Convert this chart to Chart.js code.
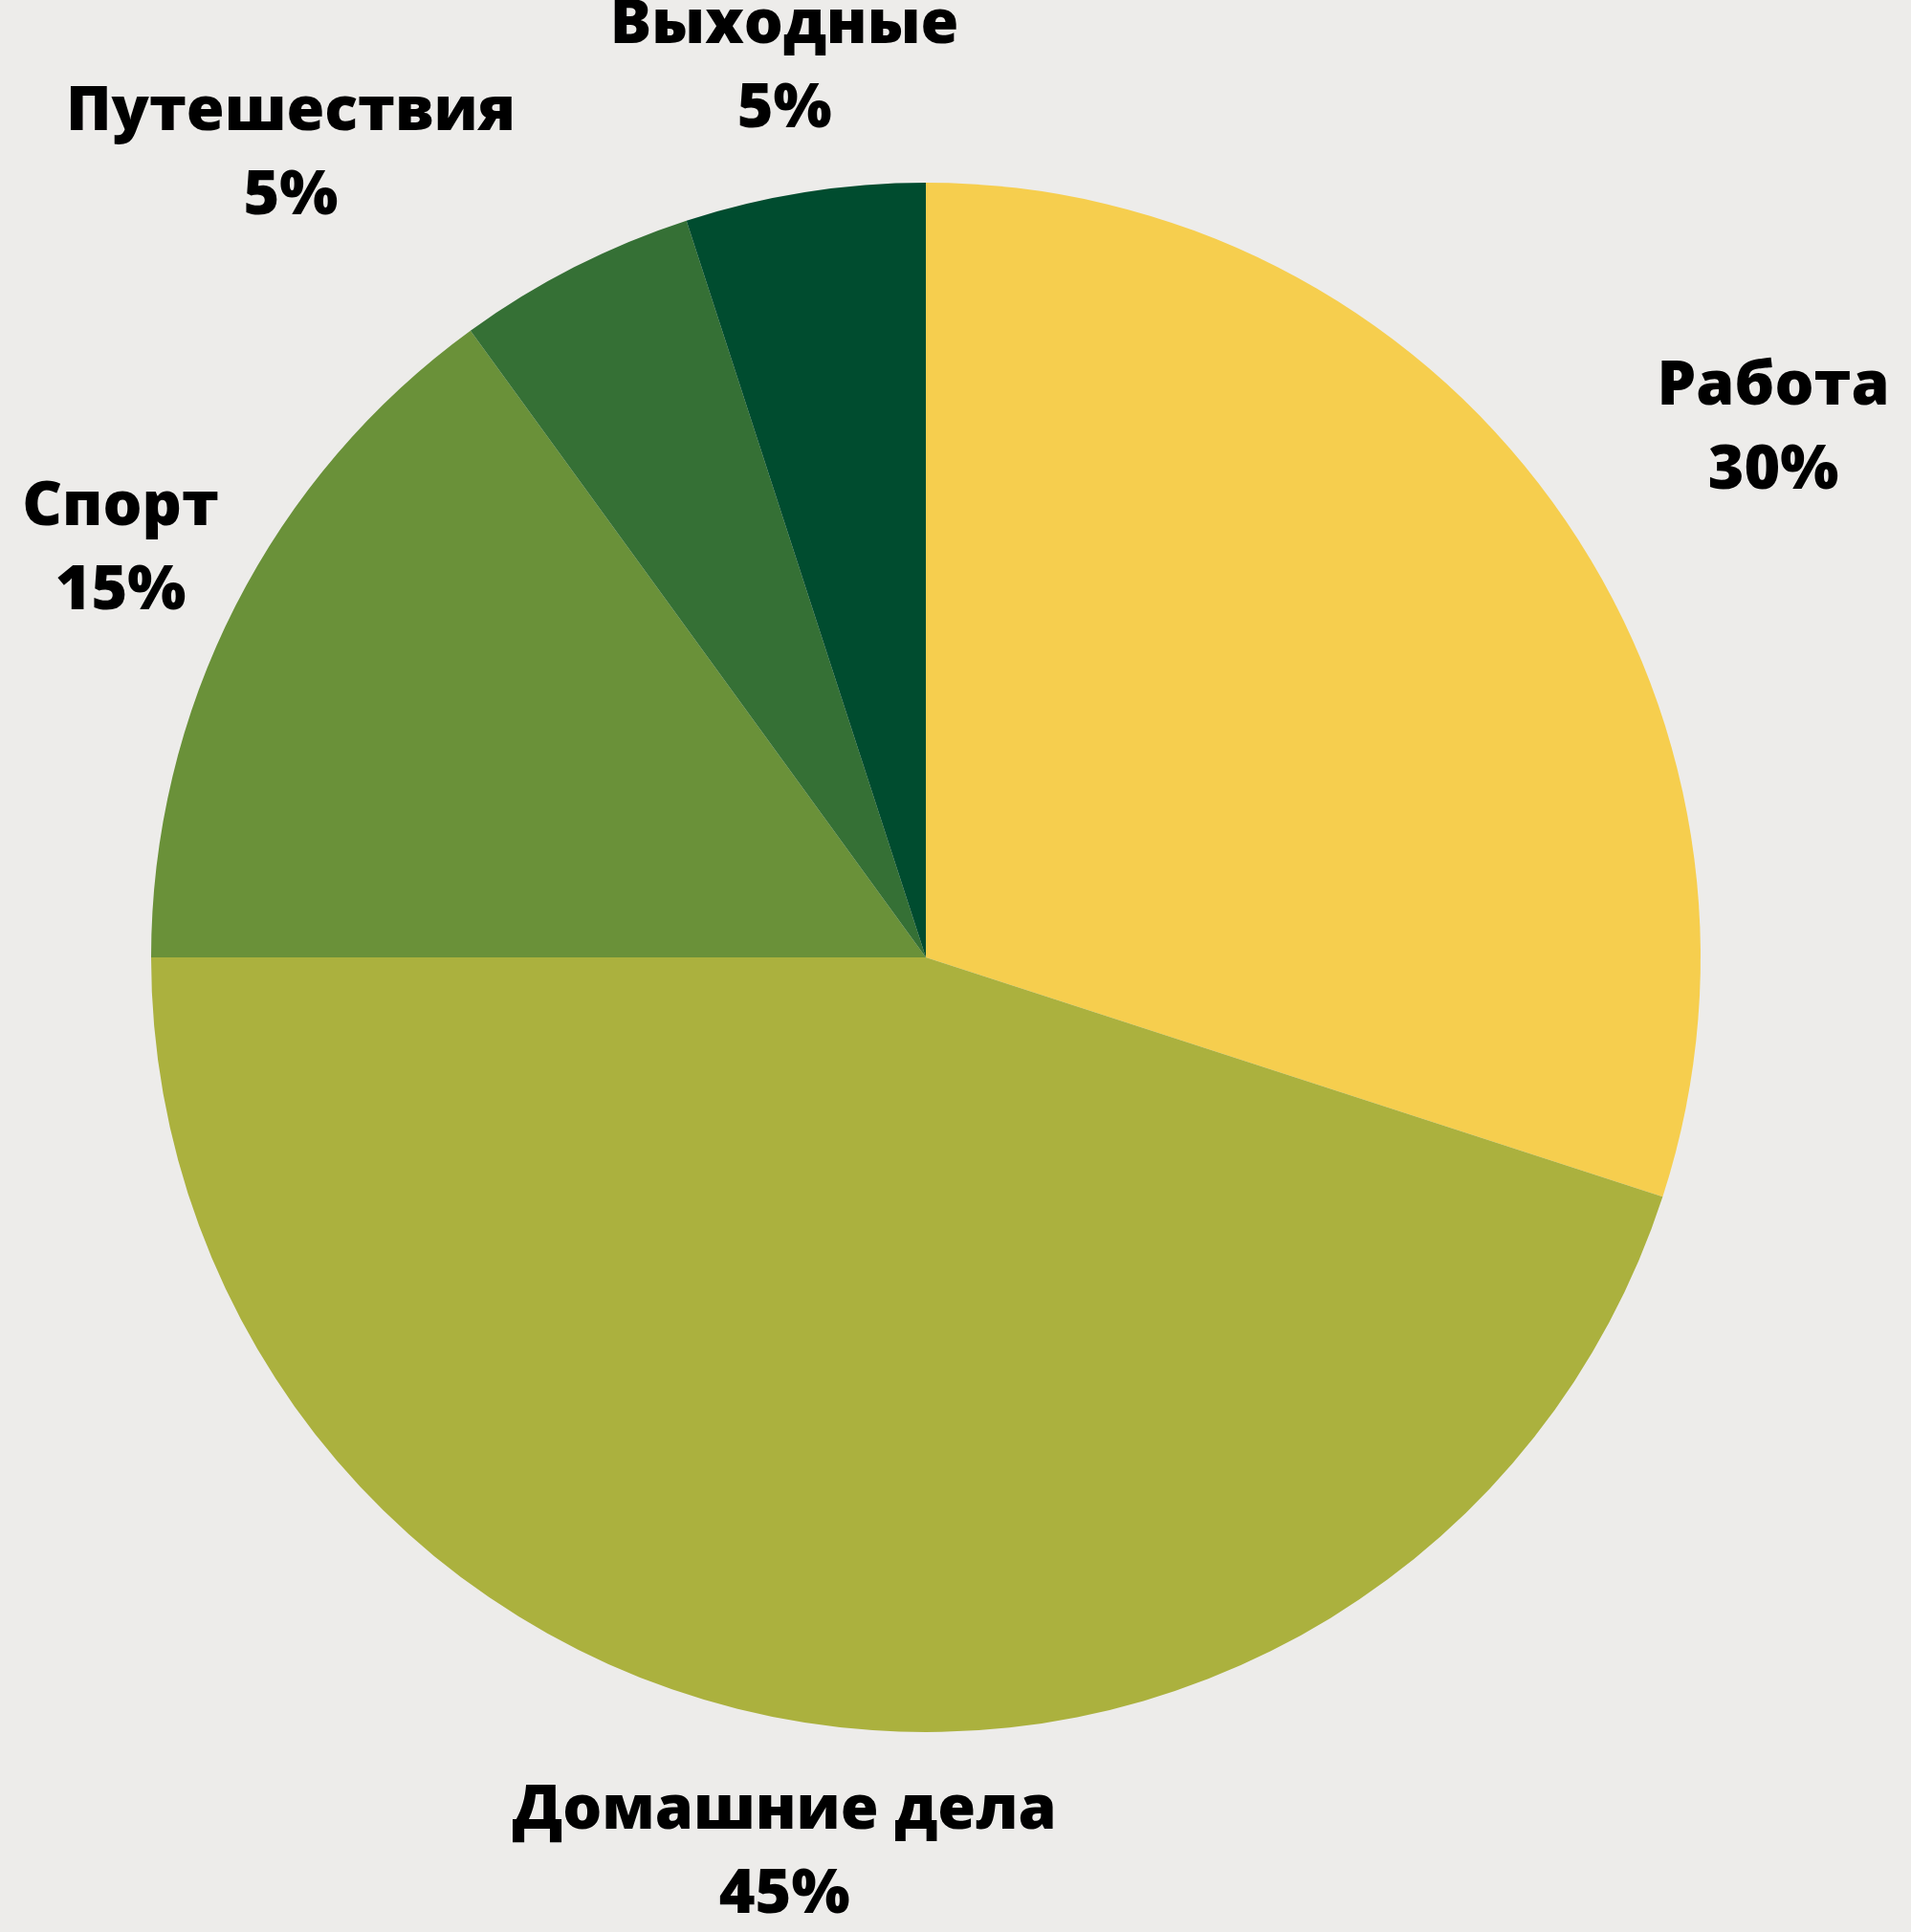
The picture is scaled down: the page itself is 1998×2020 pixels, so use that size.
<!DOCTYPE html>
<html>
<head>
<meta charset="utf-8">
<script src="https://cdn.jsdelivr.net/npm/chart.js@4"></script>
<style>
    html, body { margin: 0; padding: 0; background: #EDECEA; }
    #wrap { width: 1998px; height: 2020px; }
</style>
</head>
<body>
<div id="wrap"><canvas id="pie-chart"></canvas></div>
<script>
var categories = ['Работа', 'Домашние дела', 'Спорт', 'Путешествия', 'Выходные'];
var shares = [30, 45, 15, 5, 5];
var sliceColors = ['#F6CE4E', '#ABB13E', '#6A9139', '#357035', '#004C2F'];

// draws "name / percent" outside each slice
var outsideLabels = {
    id: 'outsideLabels',
    afterDatasetsDraw: function (chart) {
        let ctx = chart.ctx;
        let meta = chart.getDatasetMeta(0);
        let fontSize = 64.5;
        let lineGap = 88;
        ctx.save();
        ctx.font = '800 ' + fontSize + 'px "Open Sans"';
        ctx.fillStyle = '#000';
        ctx.textBaseline = 'middle';

        meta.data.forEach(function (arc, i) {
            let p = arc.getProps(['x', 'y', 'startAngle', 'endAngle', 'outerRadius'], true);
            let mid = (p.startAngle + p.endAngle) / 2;
            let dist = p.outerRadius + 135;
            let ax = p.x + Math.cos(mid) * dist;
            let ay = p.y + Math.sin(mid) * dist + 3;

            let line1 = categories[i];
            let line2 = shares[i] + '%';
            let w = Math.max(ctx.measureText(line1).width, ctx.measureText(line2).width);
            let h = lineGap + fontSize * 1.1;

            // centred box first, pushed to one side if it touches the pie
            let left = ax - w / 2;
            let top = ay - h / 2;
            let nx = Math.max(left, Math.min(p.x, left + w));
            let ny = Math.max(top, Math.min(p.y, top + h));
            let align = 'center';
            if (Math.hypot(nx - p.x, ny - p.y) < p.outerRadius) {
                align = ax > p.x ? 'left' : 'right';
            }

            let cx = ax;
            if (align === 'left') cx = ax + w / 2;
            if (align === 'right') cx = ax - w / 2;
            ctx.textAlign = 'center';
            ctx.fillText(line1, cx, ay - lineGap / 2);
            ctx.fillText(line2, cx, ay + lineGap / 2);
        });
        ctx.restore();
    }
};

let ctx = document.getElementById('pie-chart').getContext('2d');

let chart = new Chart(ctx, {
    type: 'pie',
    data: {
        labels: categories,
        datasets: [{
            data: shares,
            backgroundColor: sliceColors,
            borderWidth: 0
        }]
    },
    options: {
        responsive: true,
        maintainAspectRatio: false,
        animation: false,
        layout: {
            padding: {
                left: 158,
                right: 220,
                top: 191,
                bottom: 209
            }
        },
        plugins: {
            legend: { display: false },
            tooltip: { enabled: false }
        }
    },
    plugins: [outsideLabels]
});
</script>
</body>
</html>
